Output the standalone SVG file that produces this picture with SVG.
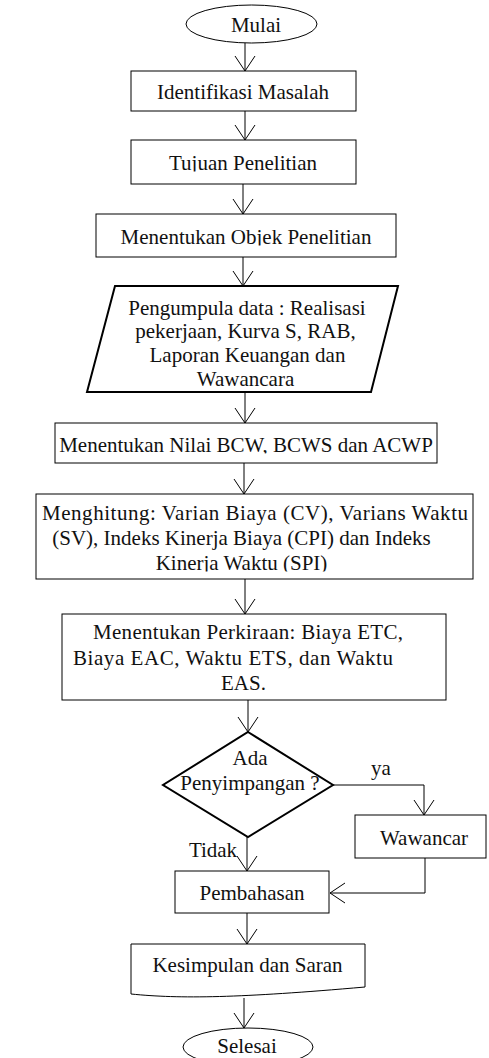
<svg xmlns="http://www.w3.org/2000/svg" width="489" height="1058" viewBox="0 0 489 1058">
<style>
text{font-family:"Liberation Serif","Times New Roman",serif;font-size:21px;fill:#111;text-anchor:middle}
text.l{text-anchor:start}
.s{fill:#fff;stroke:#000;stroke-width:1}
.t{fill:#fff;stroke:#000;stroke-width:2}
.c{fill:none;stroke:#000;stroke-width:1}
</style>
<defs>
<marker id="a" viewBox="0 0 16 22" refX="15" refY="11" markerWidth="16" markerHeight="22" markerUnits="userSpaceOnUse" orient="auto">
<path d="M0,1 L15,11 L0,21" fill="none" stroke="#000" stroke-width="1"/>
</marker>
<clipPath id="k1"><rect x="0" y="0" width="489" height="171.5"/></clipPath>
<clipPath id="k2"><rect x="0" y="0" width="489" height="245.5"/></clipPath>
<clipPath id="k3"><rect x="0" y="0" width="489" height="453.5"/></clipPath>
<clipPath id="k4"><rect x="0" y="0" width="489" height="571.5"/></clipPath>
</defs>
<g id="connectors">
<path class="c" d="M245,43 V71" marker-end="url(#a)"/>
<path class="c" d="M245,111 V140" marker-end="url(#a)"/>
<path class="c" d="M243,184 V214" marker-end="url(#a)"/>
<path class="c" d="M243,257 V286" marker-end="url(#a)"/>
<path class="c" d="M245,392 V423" marker-end="url(#a)"/>
<path class="c" d="M244,463 V494" marker-end="url(#a)"/>
<path class="c" d="M245,579 V614" marker-end="url(#a)"/>
<path class="c" d="M248,700 V732" marker-end="url(#a)"/>
<path class="c" d="M333,785 H424 V815" marker-end="url(#a)"/>
<path class="c" d="M247,837 V871" marker-end="url(#a)"/>
<path class="c" d="M425,858 V893 H330" marker-end="url(#a)"/>
<path class="c" d="M247,913 V944" marker-end="url(#a)"/>
<path class="c" d="M244,998 V1028" marker-end="url(#a)"/>
<text x="381" y="775">ya</text>
<text x="213" y="857">Tidak</text>
</g>
<g id="mulai">
<ellipse class="s" cx="251.5" cy="24" rx="65.5" ry="19"/>
<text x="256" y="32">Mulai</text>
</g>
<g id="identifikasi">
<rect class="s" x="131" y="71" width="225" height="40"/>
<text x="243" y="99">Identifikasi Masalah</text>
</g>
<g id="tujuan">
<rect class="s" x="131" y="140" width="225" height="44"/>
<text x="243" y="170" clip-path="url(#k1)">Tujuan Penelitian</text>
</g>
<g id="objek">
<rect class="s" x="96" y="214" width="300" height="43"/>
<text x="246" y="244" clip-path="url(#k2)">Menentukan Objek Penelitian</text>
</g>
<g id="pengumpulan">
<polygon class="t" points="115,286 398,286 371,392 87,392"/>
<text x="247" y="315">Pengumpula data : Realisasi</text>
<text x="245.5" y="338">pekerjaan, Kurva S, RAB,</text>
<text x="247.5" y="362">Laporan Keuangan dan</text>
<text x="245.5" y="386">Wawancara</text>
</g>
<g id="nilai">
<rect class="s" x="55" y="423" width="382" height="40"/>
<text x="246" y="452" clip-path="url(#k3)">Menentukan Nilai BCW, BCWS dan ACWP</text>
</g>
<g id="menghitung">
<rect class="s" x="36" y="494" width="437" height="85"/>
<text class="l" x="42" y="520" textLength="426" lengthAdjust="spacing">Menghitung: Varian Biaya (CV), Varians Waktu</text>
<text x="241.5" y="545">(SV), Indeks Kinerja Biaya (CPI) dan Indeks</text>
<text x="241.5" y="570" clip-path="url(#k4)">Kinerja Waktu (SPI)</text>
</g>
<g id="perkiraan">
<rect class="s" x="62" y="614" width="384" height="86"/>
<text class="l" x="93" y="639" textLength="310" lengthAdjust="spacing">Menentukan Perkiraan: Biaya ETC,</text>
<text class="l" x="73" y="665" textLength="320" lengthAdjust="spacing">Biaya EAC, Waktu ETS, dan Waktu</text>
<text x="243.5" y="690">EAS.</text>
</g>
<g id="penyimpangan">
<polygon class="t" points="248,732 333,785 248,837 163,785"/>
<text x="250" y="765">Ada</text>
<text x="250" y="790">Penyimpangan ?</text>
</g>
<g id="wawancar">
<rect class="s" x="355" y="815" width="131" height="43"/>
<text x="424" y="845">Wawancar</text>
</g>
<g id="pembahasan">
<rect class="s" x="175" y="871" width="154" height="42"/>
<text x="252" y="900">Pembahasan</text>
</g>
<g id="kesimpulan">
<path class="s" d="M131,944 H365 V987 C240,998 180,999 131,994 Z"/>
<text x="247.5" y="972">Kesimpulan dan Saran</text>
</g>
<g id="selesai">
<ellipse class="s" cx="248" cy="1047" rx="65" ry="19"/>
<text x="247" y="1053">Selesai</text>
</g>
</svg>
